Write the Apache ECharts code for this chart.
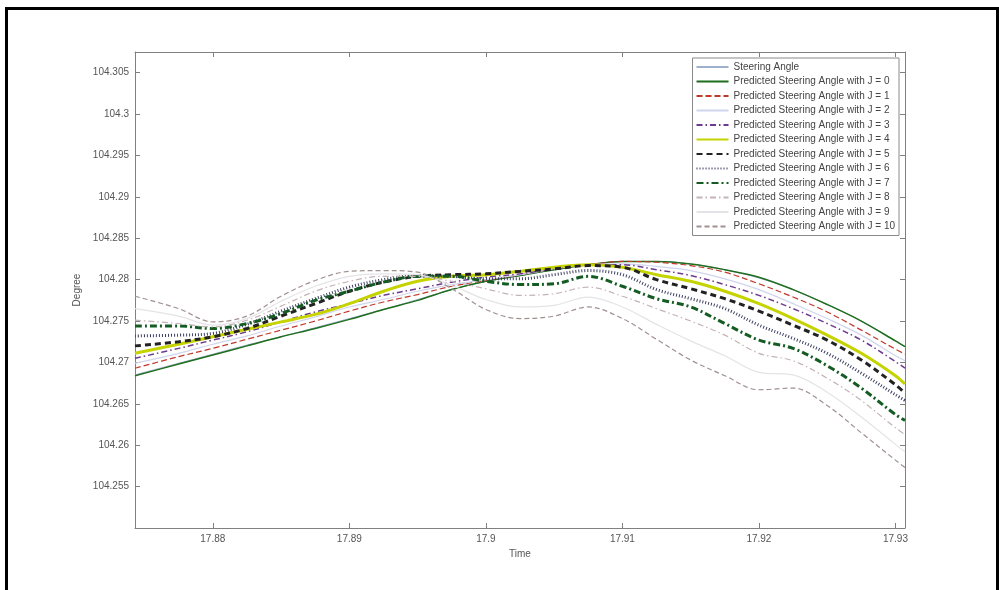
<!DOCTYPE html>
<html>
<head>
<meta charset="utf-8">
<script src="https://cdn.jsdelivr.net/npm/echarts@6/dist/echarts.min.js"></script>
<style>html,body{margin:0;padding:0;background:#fff;}#c{width:999px;height:590px;}</style>
</head>
<body>
<div id="c"></div>
<script>
const times = [17.8743, 17.8775, 17.88, 17.8825, 17.885, 17.8875, 17.89, 17.8925, 17.895, 17.8975, 17.9, 17.9025, 17.905, 17.9075, 17.91, 17.9125, 17.915, 17.9175, 17.92, 17.9225, 17.925, 17.9275, 17.93, 17.9307];
const xTicks = [17.88, 17.89, 17.9, 17.91, 17.92, 17.93];
const yTicks = [104.255, 104.26, 104.265, 104.27, 104.275, 104.28, 104.285, 104.29, 104.295, 104.3, 104.305];

const steering = [104.2685, 104.2699, 104.2710, 104.2721, 104.2731, 104.2742, 104.2753, 104.2764, 104.2776, 104.2788, 104.2798, 104.2805, 104.2812, 104.2818, 104.2822, 104.2822, 104.2819, 104.2812, 104.2802, 104.2788, 104.2770, 104.2750, 104.2726, 104.2719];
const j0 = [104.2684, 104.2698, 104.2709, 104.2720, 104.2731, 104.2741, 104.2752, 104.2764, 104.2775, 104.2788, 104.2798, 104.2805, 104.2812, 104.2818, 104.2822, 104.2822, 104.2819, 104.2812, 104.2803, 104.2788, 104.2770, 104.2750, 104.2726, 104.2719];
const j1 = [104.2693, 104.2707, 104.2717, 104.2728, 104.2739, 104.2750, 104.2762, 104.2773, 104.2782, 104.2792, 104.2799, 104.2806, 104.2813, 104.2818, 104.2822, 104.2821, 104.2817, 104.2809, 104.2795, 104.2779, 104.2761, 104.2739, 104.2716, 104.2710];
const j2 = [104.2699, 104.2711, 104.2722, 104.2732, 104.2744, 104.2755, 104.2767, 104.2776, 104.2786, 104.2794, 104.2800, 104.2806, 104.2813, 104.2818, 104.2819, 104.2816, 104.2811, 104.2801, 104.2788, 104.2771, 104.2753, 104.2733, 104.2708, 104.2702];
const j3 = [104.2705, 104.2717, 104.2727, 104.2737, 104.2749, 104.2761, 104.2771, 104.2781, 104.2789, 104.2797, 104.2803, 104.2807, 104.2813, 104.2818, 104.2818, 104.2812, 104.2805, 104.2794, 104.2781, 104.2765, 104.2747, 104.2727, 104.2701, 104.2693];
const j4 = [104.2711, 104.2722, 104.2731, 104.2740, 104.2749, 104.2758, 104.2771, 104.2786, 104.2798, 104.2804, 104.2806, 104.2810, 104.2815, 104.2818, 104.2815, 104.2806, 104.2798, 104.2786, 104.2771, 104.2753, 104.2733, 104.2711, 104.2684, 104.2674];
const j5 = [104.2720, 104.2725, 104.2731, 104.2741, 104.2756, 104.2771, 104.2786, 104.2797, 104.2804, 104.2806, 104.2807, 104.2810, 104.2813, 104.2817, 104.2815, 104.2800, 104.2789, 104.2777, 104.2762, 104.2745, 104.2727, 104.2703, 104.2673, 104.2663];
const j6 = [104.2732, 104.2733, 104.2735, 104.2746, 104.2762, 104.2777, 104.2791, 104.2800, 104.2805, 104.2804, 104.2801, 104.2801, 104.2806, 104.2811, 104.2806, 104.2788, 104.2777, 104.2765, 104.2745, 104.2729, 104.2711, 104.2687, 104.2661, 104.2654];
const j7 = [104.2744, 104.2744, 104.2741, 104.2747, 104.2759, 104.2775, 104.2786, 104.2797, 104.2804, 104.2804, 104.2798, 104.2794, 104.2795, 104.2804, 104.2792, 104.2777, 104.2767, 104.2747, 104.2727, 104.2717, 104.2696, 104.2669, 104.2637, 104.2630];
const j8 = [104.2751, 104.2747, 104.2743, 104.2751, 104.2768, 104.2786, 104.2798, 104.2804, 104.2804, 104.2798, 104.2789, 104.2781, 104.2783, 104.2791, 104.2780, 104.2765, 104.2750, 104.2733, 104.2711, 104.2702, 104.2681, 104.2654, 104.2621, 104.2613];
const j9 = [104.2765, 104.2756, 104.2745, 104.2753, 104.2774, 104.2792, 104.2804, 104.2807, 104.2806, 104.2793, 104.2776, 104.2767, 104.2769, 104.2779, 104.2767, 104.2746, 104.2726, 104.2708, 104.2688, 104.2685, 104.2664, 104.2634, 104.2601, 104.2592];
const j10 = [104.2780, 104.2765, 104.2749, 104.2756, 104.2780, 104.2799, 104.2810, 104.2811, 104.2809, 104.2789, 104.2764, 104.2753, 104.2756, 104.2767, 104.2753, 104.2728, 104.2703, 104.2684, 104.2667, 104.2669, 104.2648, 104.2615, 104.2582, 104.2573];

const names = ['Steering Angle',
  'Predicted Steering Angle with J = 0', 'Predicted Steering Angle with J = 1',
  'Predicted Steering Angle with J = 2', 'Predicted Steering Angle with J = 3',
  'Predicted Steering Angle with J = 4', 'Predicted Steering Angle with J = 5',
  'Predicted Steering Angle with J = 6', 'Predicted Steering Angle with J = 7',
  'Predicted Steering Angle with J = 8', 'Predicted Steering Angle with J = 9',
  'Predicted Steering Angle with J = 10'];
const values = [steering, j0, j1, j2, j3, j4, j5, j6, j7, j8, j9, j10];
const styles = [
  {color: '#9fb0cf', width: 1, type: 'solid'},
  {color: '#1e6e1e', width: 1.5, type: 'solid'},
  {color: '#c0392b', width: 1.2, type: [6, 3]},
  {color: '#d0d4ec', width: 1.2, type: 'solid'},
  {color: '#6d3a8f', width: 1.5, type: [6, 3, 1.5, 3]},
  {color: '#c5d300', width: 3, type: 'solid'},
  {color: '#222222', width: 3, type: [6, 4]},
  {color: '#3a3f60', width: 3, type: [1, 2]},
  {color: '#145c23', width: 3, type: [7, 3, 2, 3]},
  {color: '#c4b3b6', width: 1.2, type: [6, 3, 1.5, 3]},
  {color: '#e4e4e8', width: 1.2, type: 'solid'},
  {color: '#a09090', width: 1.2, type: [5, 3]}
];

const font = 'Liberation Sans';
const axisCol = '#808080';
const xMin = 17.8743, xMax = 17.9307, yMin = 104.25, yMax = 104.3075;

const series = names.map((n, k) => ({
  name: n, type: 'line', symbol: 'none', smooth: 0.35,
  data: times.map((t, i) => [t, values[k][i]]),
  lineStyle: {color: styles[k].color, width: styles[k].width, type: styles[k].type},
  itemStyle: {color: styles[k].color, opacity: 0},
  emphasis: {disabled: true}
}));

function baseX(pos, show) {
  return {
    type: 'value', position: pos, min: xMin, max: xMax,
    axisLine: {show: true, onZero: false, lineStyle: {color: axisCol, width: 1}},
    axisTick: {show: true, inside: true, length: 5, customValues: xTicks, lineStyle: {color: axisCol}},
    axisLabel: {show: show, customValues: xTicks, margin: 6, color: '#555', fontSize: 10, fontFamily: font,
      formatter: v => String(+(+v).toFixed(3))},
    splitLine: {show: false}
  };
}
function baseY(pos, show) {
  return {
    type: 'value', position: pos, min: yMin, max: yMax,
    axisLine: {show: true, onZero: false, lineStyle: {color: axisCol, width: 1}},
    axisTick: {show: true, inside: true, length: 5, customValues: yTicks, lineStyle: {color: axisCol}},
    axisLabel: {show: show, customValues: yTicks, margin: 6, color: '#555', fontSize: 10, fontFamily: font,
      formatter: v => String(+(+v).toFixed(3))},
    splitLine: {show: false}
  };
}

const xa = baseX('bottom', true);
xa.name = 'Time'; xa.nameLocation = 'middle'; xa.nameGap = 21;
xa.nameTextStyle = {color: '#555', fontSize: 10, fontFamily: font};
const ya = baseY('left', true);
ya.name = 'Degree'; ya.nameLocation = 'middle'; ya.nameGap = 40;
ya.nameTextStyle = {color: '#555', fontSize: 10, fontFamily: font};

const chart = echarts.init(document.getElementById('c'), null, {renderer: 'canvas'});
chart.setOption({
  animation: false,
  backgroundColor: '#ffffff',
  grid: {left: 135, right: 94, top: 52, bottom: 62, containLabel: false},
  xAxis: [xa, baseX('top', false)],
  yAxis: [ya, baseY('right', false)],
  legend: {
    orient: 'vertical', right: 100, top: 58,
    itemWidth: 32, itemHeight: 10, itemGap: 4.5,
    padding: [4, 4, 4, 3],
    backgroundColor: '#ffffff', borderColor: '#8a8a8a', borderWidth: 1,
    itemStyle: {opacity: 0},
    textStyle: {color: '#444', fontSize: 10, fontFamily: font},
    data: names, selectedMode: false
  },
  graphic: [{
    type: 'rect', silent: true, z: 100,
    shape: {x: 6.5, y: 8.5, width: 991, height: 640},
    style: {fill: 'none', stroke: '#000', lineWidth: 3}
  }],
  series: series
});
</script>
</body>
</html>
